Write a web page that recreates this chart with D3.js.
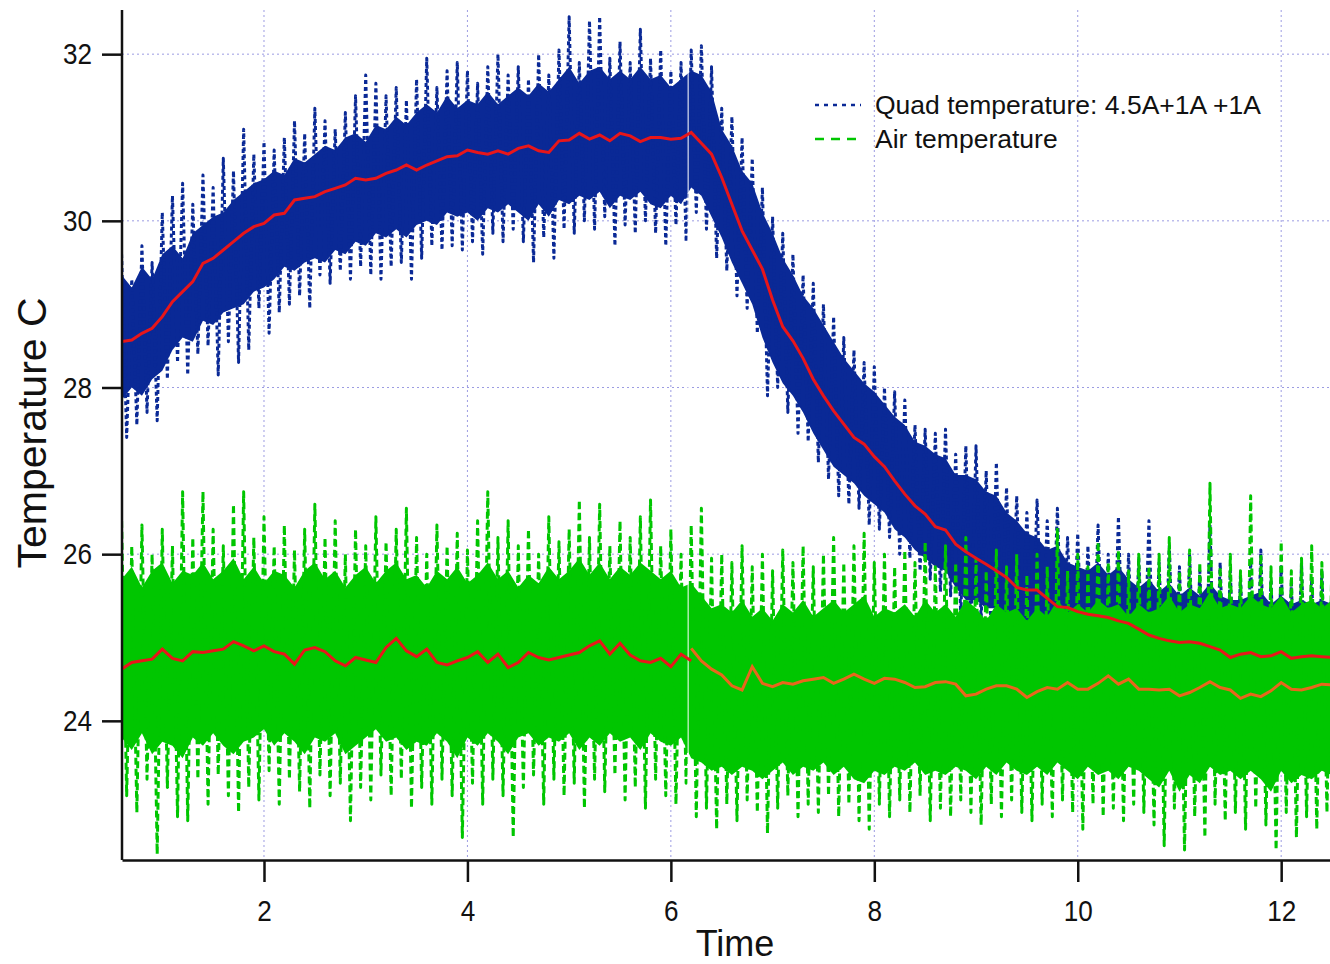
<!DOCTYPE html>
<html>
<head>
<meta charset="utf-8">
<script src="https://cdn.jsdelivr.net/npm/d3@7"></script>
<style>
  html, body { margin: 0; padding: 0; background: #fff; }
  svg { display: block; font-family: "Liberation Sans", Arial, Helvetica, sans-serif; }
</style>
</head>
<body>
<svg id="chart" width="1330" height="964"></svg>
<script>
// ---- Data -----------------------------------------------------------------
// Logger traces reduced to 0.1-hour bins. For every bin: the highest sample
// (taken at the bin start), the lowest sample (taken at mid-bin), and the
// band that holds most of the samples (upper / lower).
const binStart = 0.6;
const binStep = 0.1;

const quadMax = [
  29.6, 29.3, 29.7, 29.5, 30.1, 30.3, 30.45, 30.2, 30.55, 30.4,
  30.75, 30.6, 31.1, 30.8, 30.95, 30.85, 31.0, 31.2, 31.05, 31.35,
  31.2, 31.1, 31.3, 31.5, 31.75, 31.65, 31.5, 31.6, 31.45, 31.7,
  31.95, 31.6, 31.8, 31.9, 31.8, 31.65, 31.85, 32.0, 31.75, 31.85,
  31.7, 32.0, 31.75, 32.05, 32.45, 31.9, 32.4, 32.45, 31.95, 32.15,
  31.9, 32.3, 31.95, 32.05, 31.8, 31.9, 32.05, 32.1, 31.85, 31.35,
  31.25, 31.0, 30.75, 30.4, 30.05, 29.85, 29.6, 29.35, 29.25, 29.0,
  28.85, 28.6, 28.45, 28.3, 28.25, 28.0, 27.95, 27.85, 27.55, 27.5,
  27.45, 27.5, 27.2, 27.3, 27.3, 27.0, 27.1, 26.8, 26.7, 26.5,
  26.65, 26.4, 26.55, 26.2, 26.25, 26.1, 26.35, 26.0, 26.45, 26.0,
  25.95, 26.4, 25.9, 26.1, 25.85, 26.0, 25.8, 26.35, 25.9, 25.8,
  25.75, 25.9, 26.05, 25.7, 25.85, 25.65, 25.9, 25.7, 25.8, 25.6
];
const quadUpper = [
  29.35, 29.2, 29.45, 29.3, 29.6, 29.7, 29.55, 29.85, 29.95, 30.05,
  30.1, 30.25, 30.35, 30.45, 30.5, 30.6, 30.55, 30.75, 30.7, 30.8,
  30.9, 30.85, 31.0, 31.05, 30.95, 31.15, 31.1, 31.25, 31.15, 31.3,
  31.4, 31.3, 31.5, 31.35, 31.45, 31.4, 31.55, 31.4, 31.5, 31.6,
  31.5, 31.65, 31.55, 31.7, 31.85, 31.65, 31.8, 31.85, 31.7, 31.8,
  31.7, 31.85, 31.7, 31.75, 31.6, 31.7, 31.8, 31.75, 31.55, 31.1,
  30.9, 30.6, 30.45, 30.1, 29.85, 29.55, 29.35, 29.1, 28.95, 28.75,
  28.55, 28.35, 28.2, 28.05, 27.95, 27.8, 27.65, 27.55, 27.35, 27.3,
  27.2, 27.15, 26.95, 26.95, 26.9, 26.75, 26.7, 26.5, 26.4, 26.25,
  26.2, 26.05, 26.1, 25.9, 25.85, 25.8, 25.9, 25.75, 25.85, 25.7,
  25.6, 25.7, 25.55, 25.65, 25.5, 25.6, 25.5, 25.65, 25.5, 25.45,
  25.45, 25.5, 25.55, 25.4, 25.5, 25.4, 25.45, 25.4, 25.45, 25.4
];
const quadLower = [
  27.85, 28.0, 27.9, 28.1, 28.2, 28.45, 28.6, 28.55, 28.8, 28.75,
  28.9, 28.95, 29.0, 29.15, 29.2, 29.3, 29.45, 29.4, 29.5, 29.55,
  29.5, 29.65, 29.6, 29.75, 29.7, 29.85, 29.8, 29.9, 29.8, 29.95,
  30.0, 29.95, 30.1, 30.05, 30.1, 30.0, 30.15, 30.1, 30.2, 30.1,
  30.0, 30.2, 30.05, 30.25, 30.2, 30.3, 30.25, 30.35, 30.15, 30.3,
  30.25, 30.35, 30.2, 30.15, 30.3, 30.2, 30.4, 30.3, 30.05, 29.8,
  29.5, 29.25, 29.0, 28.6, 28.3, 28.05, 27.9, 27.7, 27.45, 27.25,
  27.05, 26.95, 26.85, 26.7, 26.6, 26.5, 26.3, 26.2, 26.05, 25.95,
  25.85, 25.8, 25.6, 25.45, 25.45, 25.35, 25.35, 25.2, 25.15, 25.05,
  25.1, 25.0, 24.9, 24.9, 24.8, 24.8, 24.7, 24.7, 24.65, 24.6,
  24.55, 24.5, 24.45, 24.45, 24.4, 24.4, 24.35, 24.3, 24.3, 24.25,
  24.25, 24.2, 24.25, 24.2, 24.2, 24.15, 24.2, 24.15, 24.2, 24.15
];
const quadMin = [
  27.4, 27.55, 27.7, 27.6, 28.1, 28.3, 28.15, 28.4, 28.5, 28.15,
  28.55, 28.3, 28.45, 28.95, 28.65, 28.9, 29.0, 29.1, 28.95, 29.35,
  29.25, 29.4, 29.3, 29.45, 29.35, 29.3, 29.45, 29.5, 29.3, 29.55,
  29.7, 29.65, 29.7, 29.65, 29.75, 29.6, 29.85, 29.75, 29.9, 29.75,
  29.5, 29.8, 29.55, 29.9, 29.85, 30.0, 29.9, 30.05, 29.7, 29.95,
  29.85, 30.0, 29.85, 29.7, 29.95, 29.75, 30.1, 29.9, 29.55, 29.4,
  29.1, 28.95, 28.65, 27.9, 28.0, 27.7, 27.45, 27.35, 27.1, 26.9,
  26.7, 26.6, 26.55, 26.35, 26.3, 26.2, 26.0, 25.95, 25.8, 25.7,
  25.55, 25.5, 25.25, 25.05, 25.2, 25.0, 25.1, 24.9, 24.95, 24.8,
  24.9, 24.8, 24.6, 24.7, 24.5, 24.6, 24.5, 24.4, 24.45, 24.3,
  24.4, 24.3, 24.2, 24.3, 24.1, 24.2, 24.15, 24.0, 24.1, 24.0,
  24.05, 23.95, 24.0, 23.9, 24.0, 23.95, 23.9, 24.0, 23.9, 23.95
];

const airMax = [
  26.4, 26.1, 26.35, 26.0, 26.3, 26.1, 26.75, 26.2, 26.75, 26.3,
  26.1, 26.6, 26.75, 26.2, 26.45, 26.1, 26.35, 26.05, 26.3, 26.6,
  26.2, 26.4, 26.0, 26.3, 26.1, 26.45, 26.15, 26.3, 26.55, 26.2,
  26.0, 26.35, 26.1, 26.25, 26.05, 26.4, 26.75, 26.2, 26.4, 26.1,
  26.3, 26.0, 26.45, 26.15, 26.3, 26.65, 26.2, 26.6, 26.1, 26.4,
  26.2, 26.45, 26.65, 26.1, 26.3, 26.0, 26.35, 26.55, 25.95, 26.0,
  25.9, 26.1, 25.85, 26.0, 25.8, 26.05, 25.9, 26.1, 25.85, 26.0,
  26.2, 25.9, 26.1, 26.25, 25.9, 26.0, 25.85, 26.05, 25.9, 26.15,
  25.85, 26.1, 25.9, 26.2, 25.95, 25.8, 26.05, 25.85, 26.0, 25.75,
  26.0, 25.85, 26.3, 25.8, 26.0, 25.85, 26.15, 25.9, 26.05, 25.8,
  26.0, 25.85, 26.0, 26.2, 25.8, 26.05, 25.9, 26.85, 25.85, 26.0,
  25.8, 26.7, 26.0, 25.85, 26.15, 25.8, 25.95, 26.1, 25.9, 26.0
];
const airUpper = [
  25.7, 25.85, 25.6, 25.8, 25.9, 25.65, 25.8, 25.75, 25.9, 25.7,
  25.8, 25.95, 25.7, 25.85, 25.65, 25.8, 25.75, 25.6, 25.8, 25.9,
  25.7, 25.8, 25.6, 25.75, 25.85, 25.65, 25.8, 25.9, 25.7, 25.75,
  25.6, 25.8, 25.7, 25.85, 25.65, 25.75, 25.9, 25.7, 25.8, 25.6,
  25.75, 25.65, 25.85, 25.7, 25.8, 25.95, 25.75, 25.9, 25.7, 25.85,
  25.75, 25.9, 25.8, 25.7, 25.8, 25.6, 25.65, 25.5, 25.35, 25.4,
  25.3, 25.45, 25.25, 25.35, 25.2, 25.4, 25.3, 25.45, 25.25, 25.35,
  25.45, 25.3, 25.4, 25.5, 25.25, 25.35, 25.3, 25.4, 25.25, 25.45,
  25.3, 25.4, 25.25, 25.45, 25.35, 25.2, 25.4, 25.3, 25.35, 25.2,
  25.35, 25.25, 25.45, 25.3, 25.4, 25.3, 25.45, 25.35, 25.4, 25.25,
  25.4, 25.3, 25.35, 25.5, 25.3, 25.4, 25.35, 25.55, 25.35, 25.4,
  25.35, 25.5, 25.4, 25.35, 25.5, 25.3, 25.4, 25.45, 25.35, 25.45
];
const airLower = [
  23.8, 23.65, 23.85, 23.6, 23.75, 23.7, 23.55, 23.8, 23.7, 23.85,
  23.7, 23.6, 23.75, 23.8, 23.9, 23.7, 23.85, 23.75, 23.6, 23.8,
  23.75, 23.85, 23.6, 23.7, 23.8, 23.9, 23.75, 23.8, 23.65, 23.75,
  23.7, 23.85, 23.75, 23.55, 23.8, 23.7, 23.85, 23.75, 23.6, 23.8,
  23.85, 23.7, 23.8, 23.75, 23.85, 23.65, 23.8, 23.7, 23.85, 23.75,
  23.8, 23.65, 23.85, 23.75, 23.7, 23.8, 23.55, 23.5, 23.4, 23.45,
  23.35, 23.45, 23.4, 23.3, 23.4, 23.5, 23.35, 23.45, 23.4, 23.5,
  23.35, 23.45, 23.3, 23.25, 23.4, 23.35, 23.45, 23.4, 23.5, 23.35,
  23.4, 23.35, 23.45, 23.4, 23.3, 23.45, 23.35, 23.5, 23.4, 23.35,
  23.45, 23.35, 23.5, 23.4, 23.3, 23.45, 23.35, 23.4, 23.3, 23.45,
  23.4, 23.3, 23.2, 23.4, 23.15, 23.35, 23.25, 23.45, 23.35, 23.4,
  23.3, 23.4, 23.3, 23.15, 23.4, 23.25, 23.35, 23.3, 23.4, 23.35
];
const airMin = [
  23.1, 22.9, 23.3, 22.4, 23.2, 22.85, 22.8, 23.3, 23.0, 23.35,
  23.1, 22.9, 23.2, 23.05, 23.4, 23.0, 23.3, 23.15, 22.95, 23.35,
  23.1, 23.25, 22.8, 23.2, 23.05, 23.35, 23.1, 23.3, 22.95, 23.2,
  23.0, 23.3, 23.1, 22.6, 23.25, 23.0, 23.3, 23.1, 22.6, 23.2,
  23.35, 23.0, 23.3, 23.1, 23.25, 22.95, 23.3, 23.15, 23.35, 23.05,
  23.2, 22.95, 23.3, 23.1, 23.0, 23.25, 22.85, 22.95, 22.7, 23.0,
  22.8, 23.05, 22.9, 22.65, 22.95, 23.1, 22.85, 23.0, 22.9, 23.1,
  22.85, 23.0, 22.8, 22.7, 23.0, 22.85, 23.05, 22.9, 23.1, 22.8,
  22.95, 22.85, 23.05, 22.9, 22.75, 23.0, 22.85, 23.05, 22.9, 22.8,
  23.0, 22.85, 23.05, 22.9, 22.7, 23.0, 22.85, 22.95, 22.8, 23.0,
  22.9, 22.75, 22.5, 22.95, 22.45, 22.85, 22.6, 23.0, 22.8, 22.9,
  22.7, 22.95, 22.75, 22.45, 22.9, 22.6, 22.85, 22.7, 22.9, 22.8
];

// Running means, one value per 0.1 h starting at binStart.
const quadMean = [
  28.55, 28.57, 28.65, 28.71, 28.85, 29.03, 29.15, 29.27, 29.49, 29.55,
  29.65, 29.75, 29.85, 29.93, 29.97, 30.07, 30.09, 30.25, 30.27, 30.29,
  30.35, 30.39, 30.43, 30.51, 30.49, 30.51, 30.57, 30.61, 30.67, 30.61,
  30.67, 30.72, 30.77, 30.78, 30.85, 30.82, 30.80, 30.84, 30.80, 30.87,
  30.90, 30.84, 30.82, 30.96, 30.97, 31.05, 30.98, 31.03, 30.96, 31.05,
  31.02, 30.95, 31.00, 31.00, 30.98, 30.99, 31.06, 30.93, 30.80, 30.52,
  30.20, 29.88, 29.65, 29.42, 29.05, 28.73, 28.56, 28.35, 28.10, 27.90,
  27.72, 27.56, 27.40, 27.32, 27.17, 27.05, 26.88, 26.72, 26.58, 26.48,
  26.33, 26.29, 26.12, 26.03, 25.95, 25.88, 25.80, 25.72, 25.60, 25.57,
  25.57, 25.47, 25.37, 25.36, 25.31, 25.28, 25.26, 25.24, 25.20, 25.17,
  25.10, 25.03, 24.99, 24.96, 24.94, 24.95, 24.93, 24.89, 24.85, 24.76,
  24.80, 24.82, 24.77, 24.78, 24.83, 24.75, 24.77, 24.78, 24.77, 24.76
];
// Air running mean: first run (0.6 h to 6.2 h) and second run (6.2 h onward).
const airMeanRun1 = [
  24.62, 24.70, 24.72, 24.74, 24.86, 24.75, 24.72, 24.83, 24.82, 24.84,
  24.86, 24.95, 24.90, 24.84, 24.90, 24.83, 24.80, 24.68, 24.85, 24.88,
  24.83, 24.72, 24.66, 24.76, 24.73, 24.70, 24.88, 24.99, 24.84, 24.77,
  24.86, 24.70, 24.67, 24.72, 24.76, 24.83, 24.70, 24.80, 24.64, 24.70,
  24.82, 24.76, 24.73, 24.76, 24.79, 24.82, 24.90, 24.96, 24.80, 24.93,
  24.79, 24.72, 24.70, 24.75, 24.65, 24.80, 24.72
];
const run2Start = 6.2;
const airMeanRun2 = [
  24.87, 24.72, 24.62, 24.55, 24.42, 24.37, 24.65, 24.45, 24.41, 24.46,
  24.44, 24.48, 24.50, 24.52, 24.45, 24.50, 24.56, 24.50, 24.45, 24.51,
  24.50, 24.46, 24.40, 24.41, 24.46, 24.47, 24.44, 24.30, 24.32, 24.38,
  24.42, 24.42, 24.38, 24.28, 24.35, 24.40, 24.38, 24.46, 24.38, 24.38,
  24.45, 24.54, 24.44, 24.50, 24.38, 24.38, 24.37, 24.38, 24.30, 24.34,
  24.40, 24.47, 24.40, 24.37, 24.27, 24.32, 24.29, 24.36, 24.46, 24.38,
  24.37, 24.40, 24.44, 24.43
];
const loggerRestart = 6.17;   // short break in both recordings

const xTicks = [2, 4, 6, 8, 10, 12];
const yTicks = [24, 26, 28, 30, 32];
const timeRange = [0.604, 12.48];
const tempRange = [22.33, 32.53];
const legendLabels = ["Quad temperature: 4.5A+1A +1A", "Air temperature"];

// ---- Layout ---------------------------------------------------------------
const colors = { quad: "#0a2996", air: "#00c600", mean: "#e8161a", meanLate: "#e8661c", grid: "#9c9ce2" };
const margin = { top: 10, right: 0, bottom: 104, left: 122 };
const width = 1330 - margin.left - margin.right;
const height = 964 - margin.top - margin.bottom;

const svg = d3.select("#chart");
svg.append("defs").append("clipPath").attr("id", "plot-clip")
  .append("rect").attr("width", width).attr("height", height);

const g = svg.append("g").attr("transform", `translate(${margin.left},${margin.top})`);

const x = d3.scaleLinear().domain(timeRange).range([0, width]);
const y = d3.scaleLinear().domain(tempRange).range([height, 0]);
const binTime = i => binStart + i * binStep;

// Grid
const grid = g.append("g").attr("stroke", colors.grid).attr("stroke-width", 1).attr("stroke-dasharray", "2,3");
grid.selectAll("line.v").data(xTicks).join("line").attr("class", "v")
  .attr("x1", d => x(d)).attr("x2", d => x(d)).attr("y1", 0).attr("y2", height);
grid.selectAll("line.h").data(yTicks).join("line").attr("class", "h")
  .attr("x1", 0).attr("x2", width).attr("y1", d => y(d)).attr("y2", d => y(d));

const plot = g.append("g").attr("clip-path", "url(#plot-clip)");

// Trace alternating the highest and lowest sample of each bin.
function tracePoints(maxs, mins) {
  const pts = [];
  maxs.forEach((v, i) => {
    pts.push([binTime(i), v]);
    if (i < mins.length) pts.push([binTime(i + 0.5), mins[i]]);
  });
  return pts;
}
const traceLine = d3.line().x(d => x(d[0])).y(d => y(d[1]));
const bandArea = d3.area()
  .x(d => x(d.t)).y0(d => y(d.lo)).y1(d => y(d.hi));

function drawSeries(maxs, upper, lower, mins, color, dash) {
  const band = upper.map((hi, i) => ({ t: binTime(i), hi, lo: lower[i] }));
  plot.append("path").attr("d", bandArea(band)).attr("fill", color);
  plot.append("path").datum(tracePoints(maxs, mins))
    .attr("d", traceLine)
    .attr("fill", "none").attr("stroke", color).attr("stroke-width", 3)
    .attr("stroke-linejoin", "round").attr("stroke-dasharray", dash);
}
drawSeries(quadMax, quadUpper, quadLower, quadMin, colors.quad, "4,3");
drawSeries(airMax, airUpper, airLower, airMin, colors.air, "7,4");

// Break in the recordings
plot.append("line")
  .attr("x1", x(loggerRestart)).attr("x2", x(loggerRestart))
  .attr("y1", 0).attr("y2", height)
  .attr("stroke", "#fff").attr("stroke-width", 1.2).attr("stroke-opacity", 0.85);

// Running means
const meanLine = start => d3.line().x((d, i) => x(start + i * binStep)).y(d => y(d));
plot.append("path").attr("d", meanLine(binStart)(quadMean))
  .attr("fill", "none").attr("stroke", colors.mean).attr("stroke-width", 3);
plot.append("path").attr("d", meanLine(binStart)(airMeanRun1))
  .attr("fill", "none").attr("stroke", colors.mean).attr("stroke-width", 3);
plot.append("path").attr("d", meanLine(run2Start)(airMeanRun2))
  .attr("fill", "none").attr("stroke", colors.meanLate).attr("stroke-width", 3);

// Axes
const labelSquash = 0.87;
const yAxis = g.append("g")
  .call(d3.axisLeft(y).tickValues(yTicks).tickSize(20).tickSizeOuter(0).tickPadding(10).tickFormat(d3.format("d")));
const xAxis = g.append("g").attr("transform", `translate(0,${height})`)
  .call(d3.axisBottom(x).tickValues(xTicks).tickSize(22).tickSizeOuter(0).tickPadding(18).tickFormat(d3.format("d")));
[yAxis, xAxis].forEach(ax => {
  ax.select(".domain").attr("stroke", "#111").attr("stroke-width", 2.5);
  ax.selectAll(".tick line").attr("stroke", "#111").attr("stroke-width", 2.5);
  ax.selectAll(".tick text").attr("fill", "#111").style("font-size", "30px")
    .style("font-family", "'Liberation Sans', Arial, sans-serif")
    .attr("transform", `scale(${labelSquash},1)`);
});
yAxis.selectAll(".tick text").attr("x", -30 / labelSquash);
// The y axis line runs the full plot height.
yAxis.select(".domain").attr("d", `M0,0V${height}`);

// Axis titles
svg.append("text")
  .attr("transform", `translate(46,${margin.top + 423}) rotate(-90)`)
  .attr("text-anchor", "middle")
  .style("font-size", "41px").attr("fill", "#111")
  .text("Temperature C");
svg.append("text")
  .attr("x", 735).attr("y", 956)
  .attr("text-anchor", "middle")
  .style("font-size", "36px").attr("fill", "#111")
  .text("Time");

// Legend
const legend = svg.append("g");
const legendItems = [
  { label: legendLabels[0], color: colors.quad, dash: "4,5", y: 105 },
  { label: legendLabels[1], color: colors.air, dash: "9,7", y: 139 }
];
legendItems.forEach(it => {
  legend.append("line").attr("x1", 815).attr("x2", 861).attr("y1", it.y).attr("y2", it.y)
    .attr("stroke", it.color).attr("stroke-width", 2.5).attr("stroke-dasharray", it.dash);
  legend.append("text").attr("x", 875).attr("y", it.y).attr("dy", "0.35em")
    .style("font-size", "26.5px").attr("fill", "#111").text(it.label);
});
</script>
</body>
</html>
